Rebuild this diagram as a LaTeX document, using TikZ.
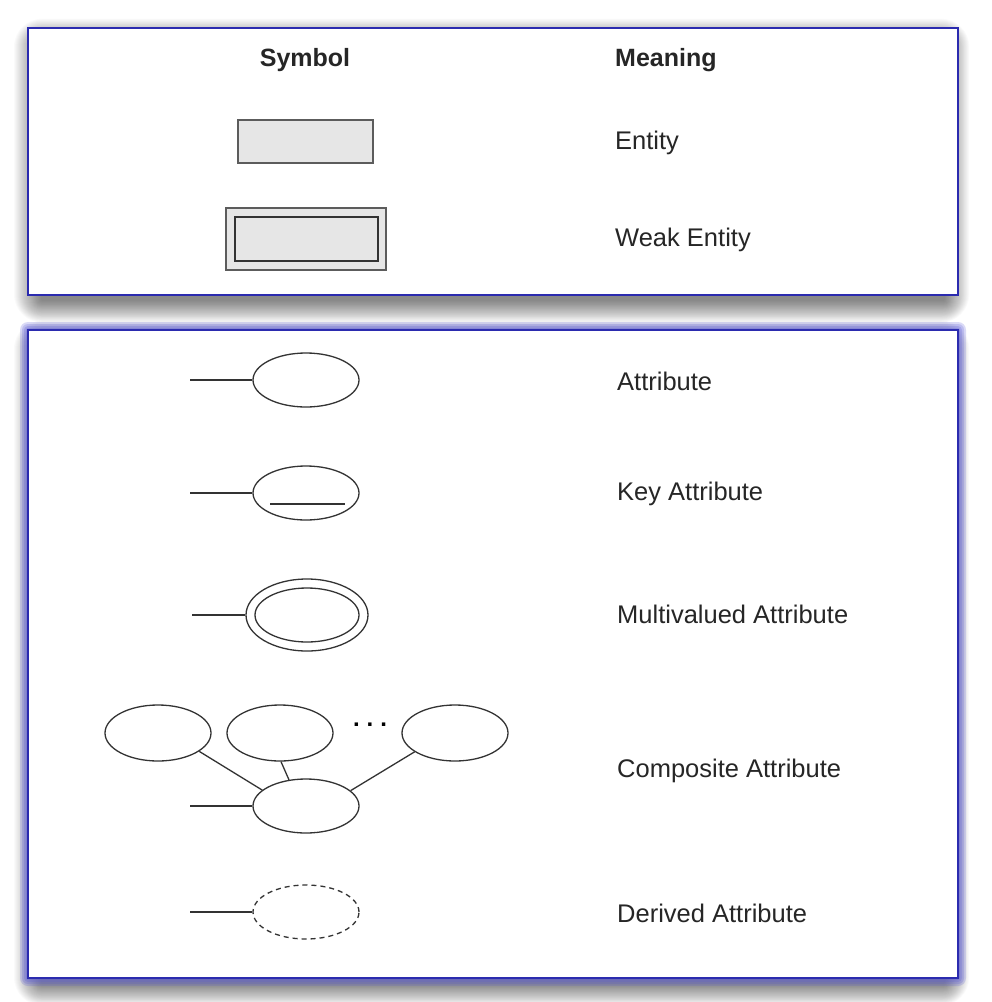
\documentclass[tikz,border=0pt]{standalone}
\usepackage{fontspec}
\setmainfont{Liberation Sans}
\usetikzlibrary{shapes.geometric}
\definecolor{frameblue}{HTML}{2B2BAF}
\definecolor{glowblue}{HTML}{5A5AD8}
\definecolor{entfill}{HTML}{E6E6E6}
\definecolor{inkgray}{HTML}{333333}
\tikzset{
  lbl/.style={anchor=west,inner sep=0pt,font=\fontsize{25.5}{30}\selectfont,text=black!85},
  head/.style={inner sep=0pt,font=\fontsize{25}{30}\selectfont\bfseries,text=black!85},
  entbox/.style={draw=inkgray!80,fill=entfill,line width=1.4pt,inner sep=0pt},
  attr/.style={ellipse,draw=inkgray,line width=1.3pt,inner sep=0pt,minimum width=106pt,minimum height=54pt},
  conn/.style={draw=inkgray,line width=1.3pt},
  panel/.style={draw=frameblue,line width=2.4pt,fill=white}
}
\begin{document}
\begin{tikzpicture}[x=1pt,y=-1pt]
\useasboundingbox (0,0) rectangle (992,1002);
\fill[white] (0,0) rectangle (992,1002);
% shadows
\foreach \i in {1,...,28}{
  \fill[black,opacity=0.02,rounded corners=\i pt] (42-\i,44-0.9*\i) rectangle (944+0.9*\i,300+0.8*\i);
  \fill[black,opacity=0.02,rounded corners=\i pt] (42-\i,346-0.9*\i) rectangle (944+0.9*\i,983+0.8*\i);
}
% panels
\draw[panel] (28,28) rectangle (958,295);
\foreach \i in {2,4,6,8}{
  \fill[glowblue,opacity=0.22,rounded corners=\i pt] (28-\i,330-\i) rectangle (958+\i,978+\i);
}
\draw[panel] (28,330) rectangle (958,978);

% headings
\node[head] (hs) at (305,60) {Symbol};
\node[head,anchor=west] (hm) at (615,60) {Meaning};

% entity
\node[entbox,minimum width=135pt,minimum height=43pt] (ent) at (305.5,141.5) {};
\node[lbl] (tent) at (615,143) {Entity};
% weak entity
\node[entbox,minimum width=160pt,minimum height=62pt] (wk) at (306,239) {};
\node[draw=inkgray,line width=1.6pt,inner sep=0pt,minimum width=143pt,minimum height=44pt] (wki) at (306.5,239) {};
\node[lbl] (twk) at (615,240) {Weak Entity};

% attribute
\node[attr] (a) at (306,380) {};
\coordinate (a0) at (190,380);
\draw[conn] (a0) -- (a.west);
\node[lbl] (ta) at (617,381) {Attribute};

% key attribute
\node[attr] (k) at (306,493) {};
\coordinate (k0) at (190,493);
\draw[conn] (k0) -- (k.west);
\draw[conn,line width=1.6pt] ([shift={(-36,11)}]k.center) -- ([shift={(39,11)}]k.center);
\node[lbl] (tk) at (617,494) {Key Attribute};

% multivalued attribute
\node[attr,minimum width=122pt,minimum height=72pt] (m) at (307,615) {};
\node[attr,minimum width=104pt,minimum height=54pt] (mi) at (307,615) {};
\coordinate (m0) at (192,615);
\draw[conn] (m0) -- (m.west);
\node[lbl] (tm) at (617,614) {Multivalued Attribute};

% composite attribute
\node[attr,minimum height=56pt] (c1) at (158,733) {};
\node[attr,minimum height=56pt] (c2) at (280,733) {};
\node[attr,minimum height=56pt] (c3) at (455,733) {};
\node[attr] (c4) at (306,806) {};
\node[inner sep=0pt,font=\fontsize{24}{24}\selectfont\bfseries] (dots) at (370,725) {.\hspace{7pt}.\hspace{7pt}.};
\coordinate (c0) at (190,806);
\draw[conn] (c0) -- (c4.west);
\draw[conn] (c1.-24) -- (c4.160);
\draw[conn] (c2.-88) -- (c4.123);
\draw[conn] (c3.205) -- (c4.19);
\node[lbl] (tc) at (617,771) {Composite Attribute};

% derived attribute
\node[attr,dash pattern=on 5pt off 4pt] (d) at (306,912) {};
\coordinate (d0) at (190,912);
\draw[conn] (d0) -- (d.west);
\node[lbl] (td) at (617,913) {Derived Attribute};
\end{tikzpicture}
\end{document}
